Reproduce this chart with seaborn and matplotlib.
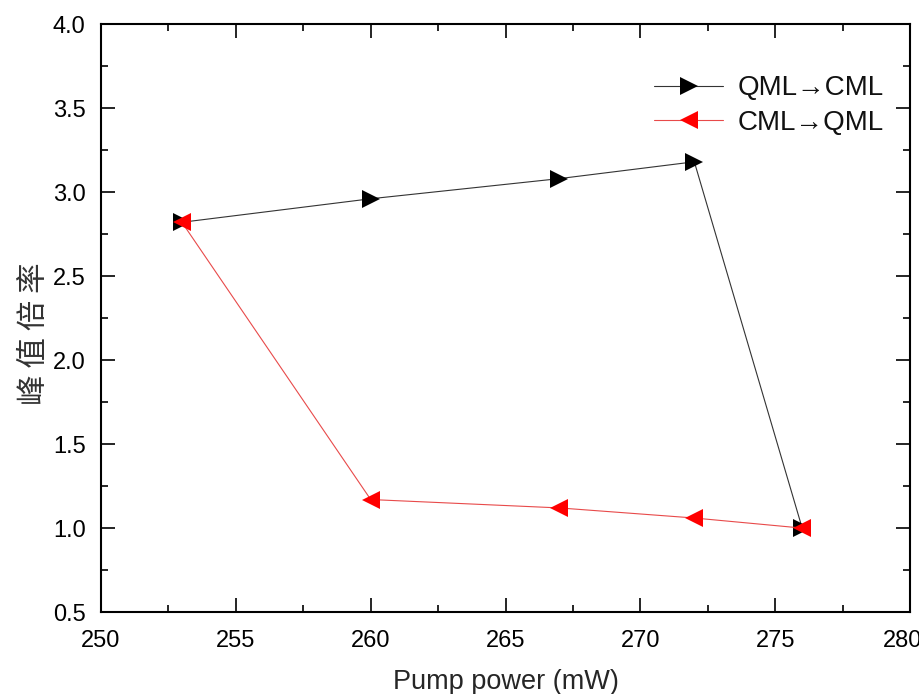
import matplotlib
matplotlib.use("Agg")
import matplotlib.pyplot as plt
from matplotlib.transforms import ScaledTranslation
import seaborn as sns
import pandas as pd

# Data
fwd_power = [253, 260, 267, 272, 276]
fwd_ratio = [2.82, 2.96, 3.08, 3.18, 1.00]
rev_power = [276, 272, 267, 260, 253]
rev_ratio = [1.00, 1.06, 1.12, 1.17, 2.82]
labels = ["QML→CML", "CML→QML"]
x_ticks = [250, 255, 260, 265, 270, 275, 280]
y_ticks = [0.5, 1.0, 1.5, 2.0, 2.5, 3.0, 3.5, 4.0]

sns.set_theme(style="white")
plt.rcParams['font.family'] = ['Liberation Sans', 'Noto Sans CJK SC', 'DejaVu Sans']

fig = plt.figure(figsize=(9.2, 6.94), dpi=100)
ax = fig.add_axes([0.1098, 0.118, 0.8794, 0.8474])

df_f = pd.DataFrame({"x": fwd_power, "y": fwd_ratio})
df_r = pd.DataFrame({"x": rev_power, "y": rev_ratio})

sns.lineplot(data=df_f, x="x", y="y", sort=False, ax=ax, color="#333333", lw=0.8,
             marker=">", markersize=13, markeredgewidth=0, markerfacecolor="black",
             label=labels[0], estimator=None)
sns.lineplot(data=df_r, x="x", y="y", sort=False, ax=ax, color="#e84a4a", lw=0.8,
             marker="<", markersize=13, markeredgewidth=0, markerfacecolor="#ff0000",
             label=labels[1], estimator=None)

ax.set_xlim(250, 280)
ax.set_ylim(0.5, 4.0)
ax.set_xticks(x_ticks)
ax.set_yticks(y_ticks)
ax.set_xticklabels([str(t) for t in x_ticks], fontsize=17)
ax.set_yticklabels([f"{t:.1f}" for t in y_ticks], fontsize=17)
ax.set_xticks([252.5 + 5 * i for i in range(6)], minor=True)
ax.set_yticks([0.75 + 0.5 * i for i in range(7)], minor=True)
ax.tick_params(which="both", direction="in", top=True, right=True, bottom=True, left=True,
               colors="black", width=1.2)
ax.tick_params(which="major", length=10)
ax.tick_params(axis="x", which="major", pad=13)
ax.tick_params(axis="y", which="major", pad=11)
ax.tick_params(which="minor", length=5)
for s in ax.spines.values():
    s.set_color("black")
    s.set_linewidth(1.5)

# keep the last x tick label inside the figure
last = ax.get_xticklabels()[-1]
last.set_transform(last.get_transform() + ScaledTranslation(-8 / 100, 0, fig.dpi_scale_trans))

ax.set_xlabel("Pump power (mW)", fontsize=19.5, labelpad=12)
ax.set_ylabel("峰 值 倍 率", fontsize=22, labelpad=2, y=0.474,
              family=['Noto Sans CJK SC', 'DejaVu Sans'], color="#333333")

leg = ax.legend(loc="upper right", bbox_to_anchor=(0.998, 0.955), frameon=False,
                fontsize=20, handlelength=2.5, handletextpad=0.5, labelspacing=0.3)
for t in leg.get_texts():
    t.set_color("#111111")

fig.savefig("out.png", dpi=100)
